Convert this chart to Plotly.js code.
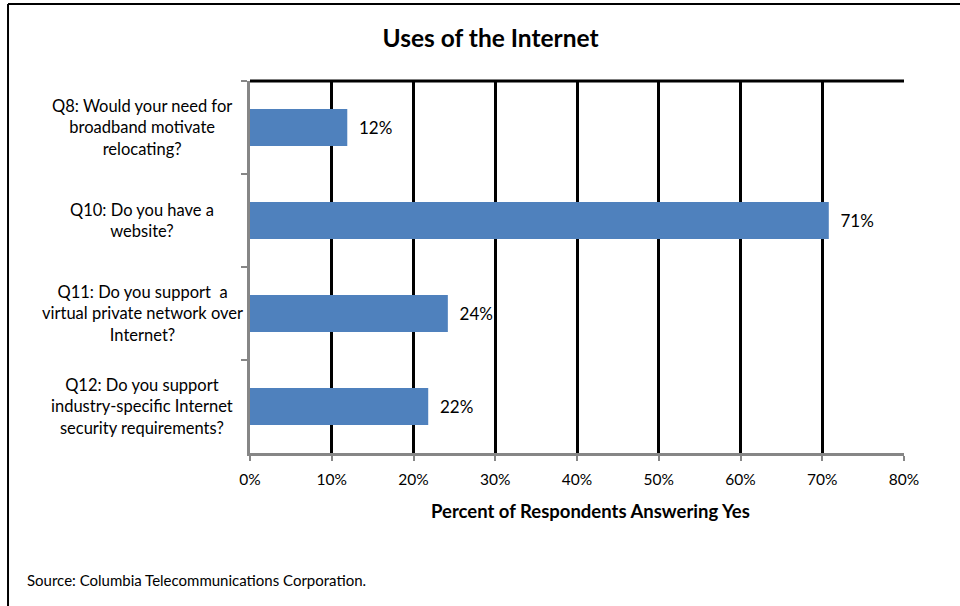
<!DOCTYPE html>
<html>
<head>
<meta charset="utf-8">
<script src="https://cdn.plot.ly/plotly-3.0.1.min.js"></script>
<style>html,body{margin:0;padding:0;background:#fff;overflow:hidden;}#chart{width:960px;height:606px;}</style>
</head>
<body>
<div id="chart"></div>
<script>
const categories = ["Q8", "Q10", "Q11", "Q12"];
const categoryLabels = [
  "Q8: Would your need for<br>broadband motivate<br>relocating?",
  "Q10: Do you have a<br>website?",
  "Q11: Do you support  a<br>virtual private network over<br>Internet?",
  "Q12: Do you support<br>industry-specific Internet<br>security requirements?"
];
const percentYes = [11.9, 70.8, 24.2, 21.8];
const xTickValues = [0, 10, 20, 30, 40, 50, 60, 70, 80];
const xTickLabels = ["0%", "10%", "20%", "30%", "40%", "50%", "60%", "70%", "80%"];

const FONT = "Lato, 'Liberation Sans', sans-serif";

const trace = {
  type: "bar",
  orientation: "h",
  y: categories,
  x: percentYes,
  marker: {color: "#4f81bd"},
  text: percentYes.map(v => "\u00a0\u00a0" + Math.round(v) + "%"),
  textposition: "outside",
  textfont: {family: FONT, size: 17, color: "#000"},
  cliponaxis: false,
  hoverinfo: "none"
};

const annotations = categories.map((c, i) => ({
  xref: "paper", yref: "y", x: -0.165, y: c,
  text: categoryLabels[i], showarrow: false,
  xanchor: "center", yanchor: "middle", align: "center",
  font: {family: FONT, size: 16.5, color: "#000"}
}));
annotations.push({
  xref: "paper", yref: "paper", x: 0.52, y: -0.155,
  text: "<b>Percent of Respondents Answering Yes</b>", showarrow: false,
  xanchor: "center", yanchor: "middle",
  font: {family: FONT, size: 18.5, color: "#000"}
});
annotations.push({
  xref: "paper", yref: "paper", x: -0.344, y: -0.342,
  text: "Source: Columbia Telecommunications Corporation.", showarrow: false,
  xanchor: "left", yanchor: "middle",
  font: {family: FONT, size: 15, color: "#000"}
});

const layout = {
  width: 960, height: 606,
  margin: {l: 250, r: 56, t: 81, b: 153},
  paper_bgcolor: "#fff", plot_bgcolor: "#fff",
  title: {text: "<b>Uses of the Internet</b>", x: 0.511, xanchor: "center", y: 0.937, yanchor: "middle",
          font: {family: FONT, size: 24.5, color: "#000"}},
  bargap: 0.6,
  showlegend: false,
  xaxis: {
    range: [0, 80], tickmode: "array", tickvals: xTickValues, ticktext: xTickLabels,
    showgrid: true, gridcolor: "#000", gridwidth: 3,
    zeroline: false,
    showline: true, linecolor: "#868686", linewidth: 3,
    ticks: "outside", ticklen: 5, tickwidth: 2, tickcolor: "#868686",
    ticklabelstandoff: 5,
    tickfont: {family: FONT, size: 15.5, color: "#000"},
    fixedrange: true
  },
  yaxis: {
    type: "category", autorange: "reversed",
    showgrid: false, zeroline: false,
    showline: true, linecolor: "#868686", linewidth: 3,
    ticks: "outside", tickson: "boundaries", ticklen: 6, tickwidth: 2, tickcolor: "#868686",
    showticklabels: false,
    fixedrange: true
  },
  annotations: annotations,
  shapes: [
    {type: "line", xref: "x domain", yref: "y domain", x0: 0, x1: 1, y0: 1, y1: 1,
     line: {color: "#000", width: 3}},
    {type: "line", xref: "paper", yref: "paper", x0: -0.37, x1: -0.37, y0: 1.207, y1: -0.45,
     line: {color: "#000", width: 2}},
    {type: "line", xref: "paper", yref: "paper", x0: -0.37, x1: 1.25, y0: 1.207, y1: 1.207,
     line: {color: "#000", width: 2}}
  ]
};

Plotly.newPlot("chart", [trace], layout, {displayModeBar: false, staticPlot: true});
</script>
</body>
</html>
